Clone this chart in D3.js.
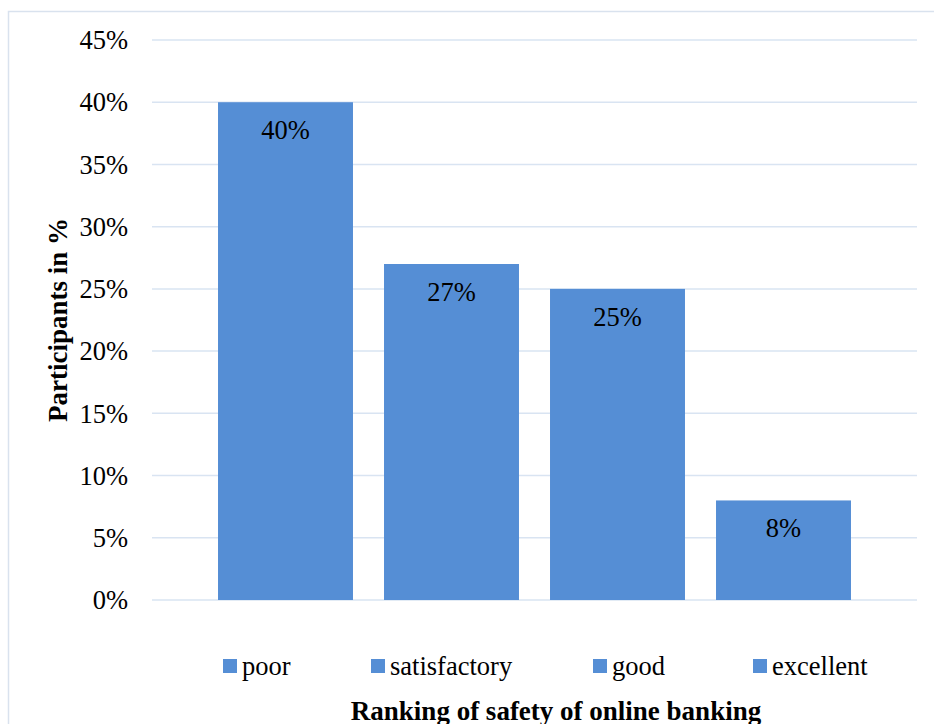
<!DOCTYPE html>
<html><head><meta charset="utf-8">
<script src="https://cdn.jsdelivr.net/npm/d3@7"></script>
<style>body{margin:0;background:#fff}svg{display:block}
.serif{font-family:"Liberation Serif","Times New Roman",Tinos,Times,serif}</style>
</head><body>
<svg id="c" width="934" height="724"></svg>
<script>
const categories = ["poor", "satisfactory", "good", "excellent"];
const values = [40, 27, 25, 8];
const yTicks = [0, 5, 10, 15, 20, 25, 30, 35, 40, 45];
const yTitle = "Participants in %";
const xTitle = "Ranking of safety of online banking";

const svg = d3.select("#c");
const barColor = "#558ed5";
const fs = 26.5;

svg.append("rect").attr("x", 8.5).attr("y", 11.5).attr("width", 940).attr("height", 740)
  .attr("fill", "none").attr("stroke", "#d9e2ee").attr("stroke-width", 1.5);

const y = d3.scaleLinear().domain([0, 45]).range([600, 40]);
const x = d3.scaleBand().domain(categories).range([202.5, 866.5]).paddingInner(0.187).paddingOuter(0.0935);

const gx0 = 152, gx1 = 917;
const grid = svg.append("g");
grid.selectAll("line").data(yTicks).join("line")
  .attr("x1", gx0).attr("x2", gx1)
  .attr("y1", d => y(d)).attr("y2", d => y(d))
  .attr("stroke", "#d9e4f2").attr("stroke-width", 1.5);

const yAxis = d3.axisLeft(y).tickValues(yTicks).tickFormat(d => d + "%").tickSize(0).tickPadding(0);
const ya = svg.append("g").attr("transform", "translate(128,0)").call(yAxis);
ya.attr("font-family", null).attr("font-size", null);
ya.select(".domain").remove();
ya.selectAll("text").attr("class", "serif").style("font-size", fs + "px").attr("fill", "#000").attr("dy", "0.33em");

svg.append("g").selectAll("rect").data(values).join("rect")
  .attr("x", (d, i) => x(categories[i])).attr("width", x.bandwidth())
  .attr("y", d => y(d)).attr("height", d => y(0) - y(d))
  .attr("fill", barColor);

svg.append("g").selectAll("text").data(values).join("text")
  .attr("class", "serif")
  .attr("x", (d, i) => x(categories[i]) + x.bandwidth() / 2)
  .attr("y", d => y(d) + 37)
  .attr("text-anchor", "middle").style("font-size", fs + "px").attr("fill", "#000")
  .text(d => d + "%");

// legend
const legX = [223, 371, 593, 753];
const lg = svg.append("g");
categories.forEach((c, i) => {
  lg.append("rect").attr("x", legX[i]).attr("y", 659).attr("width", 14).attr("height", 14).attr("fill", barColor);
  lg.append("text").attr("class", "serif").attr("x", legX[i] + 19).attr("y", 675).style("font-size", fs + "px")
    .attr("fill", "#000").text(c);
});

svg.append("text").attr("class", "serif").attr("x", 556).attr("y", 720).attr("text-anchor", "middle")
  .style("font-size", "27px").attr("font-weight", "bold").text(xTitle);

svg.append("text").attr("class", "serif").attr("transform", "translate(67,320) rotate(-90)").attr("text-anchor", "middle")
  .style("font-size", "27px").attr("font-weight", "bold").text(yTitle);
</script>
</body></html>
